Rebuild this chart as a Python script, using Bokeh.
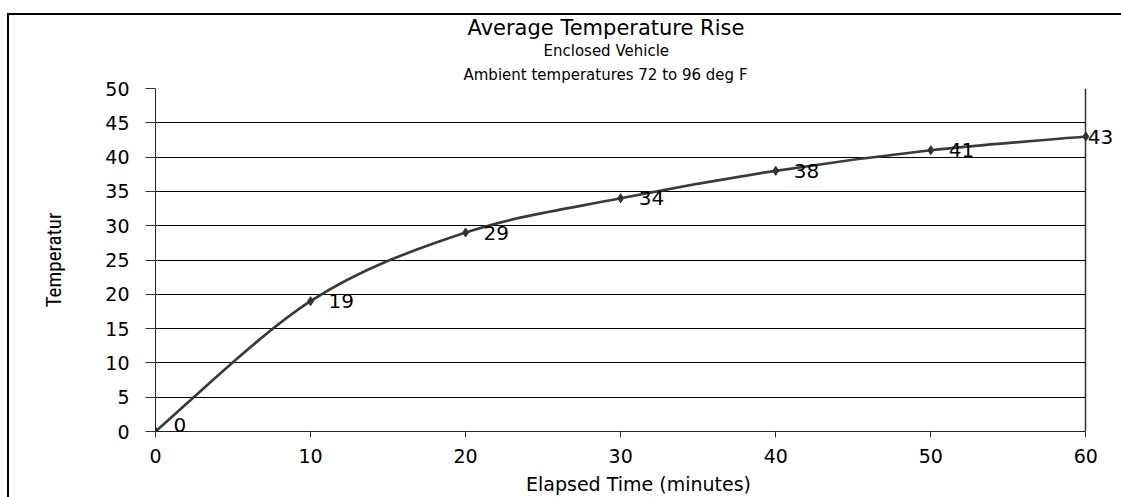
from bokeh.plotting import figure
from bokeh.models import ColumnDataSource, FixedTicker, LabelSet, Range1d, Title
from bokeh.core.properties import value
from bokeh.embed import file_html
from bokeh.resources import INLINE

# ---- data ----
minutes = [0, 10, 20, 30, 40, 50, 60]
temp_rise = [0, 19, 29, 34, 38, 41, 43]
point_labels = ["0", "19", "29", "34", "38", "41", "43"]
x_ticks = [0, 10, 20, 30, 40, 50, 60]
y_ticks = [0, 5, 10, 15, 20, 25, 30, 35, 40, 45, 50]
title_text = "Average Temperature Rise"
subtitle_1 = "Enclosed Vehicle"
subtitle_2 = "Ambient temperatures 72 to 96 deg F"
x_title = "Elapsed Time (minutes)"
y_title = "Temperatur"

# label offsets (style only)
label_dx = [18, 18, 18, 18, 18, 18, 2]
label_dy = [7, 0, 0, 0, 0, 0, 0]

FONT = "DejaVu Sans"
W, H = 1121, 497
LEFT, RIGHT, TOP, BOTTOM = 155, 0, 88, 66

p = figure(width=W, height=H, output_backend="svg", toolbar_location=None,
           x_range=Range1d(0, 62.3), y_range=Range1d(0, 50),
           min_border_left=LEFT, min_border_right=RIGHT,
           min_border_top=TOP, min_border_bottom=BOTTOM)
p.border_fill_color = None
p.background_fill_color = "white"
p.styles = {"background": "linear-gradient(#000,#000) 7px 13px / 100% 2px no-repeat, "
                          "linear-gradient(#000,#000) 7px 13px / 2px 100% no-repeat, #fff"}
p.outline_line_color = None

# axes
p.xaxis.ticker = FixedTicker(ticks=x_ticks)
p.yaxis.ticker = FixedTicker(ticks=y_ticks)
for ax in (p.xaxis[0], p.yaxis[0]):
    ax.major_label_text_font = FONT
    ax.major_label_text_font_size = "19px"
    ax.major_label_text_color = "black"
    ax.axis_label_text_font_style = "normal"
    ax.axis_label_text_color = "black"
    ax.minor_tick_line_color = None
    ax.major_tick_in = 0
    ax.axis_line_color = "#222222"
    ax.major_tick_line_color = "#333333"

p.xaxis.bounds = (x_ticks[0], x_ticks[-1])
p.xaxis.major_tick_out = 6
p.xaxis.major_label_standoff = 11
p.xaxis.axis_label = x_title
p.xaxis.axis_label_text_font = FONT
p.xaxis.axis_label_text_font_size = "19px"
p.xaxis.axis_label_standoff = 7

p.yaxis.major_tick_out = 10
p.yaxis.major_label_standoff = 16
p.yaxis.axis_label = y_title
p.yaxis.axis_label_text_font = "Liberation Sans Narrow, Roboto Condensed, Arial Narrow, sans-serif"
p.yaxis.axis_label_text_font_size = "21px"
p.yaxis.axis_label_standoff = 36

# horizontal gridlines limited to the plot area, vertical line only at the right edge
p.ygrid.grid_line_color = "black"
p.ygrid.grid_line_width = 1
p.ygrid.cross_bounds = (x_ticks[0], x_ticks[-1])
p.xgrid.ticker = FixedTicker(ticks=[x_ticks[-1]])
p.xgrid.grid_line_color = "#333333"
p.xgrid.grid_line_width = 1.5

# smooth (Excel-like) curve through the points using the bezier glyph
n = len(minutes)
bx0, by0, bx1, by1, cx0, cy0, cx1, cy1 = [], [], [], [], [], [], [], []
for i in range(n - 1):
    a = max(i - 1, 0)
    b = min(i + 2, n - 1)
    bx0.append(minutes[i]); by0.append(temp_rise[i])
    bx1.append(minutes[i + 1]); by1.append(temp_rise[i + 1])
    cx0.append(minutes[i] + (minutes[i + 1] - minutes[a]) / 6)
    cy0.append(temp_rise[i] + (temp_rise[i + 1] - temp_rise[a]) / 6)
    cx1.append(minutes[i + 1] - (minutes[b] - minutes[i]) / 6)
    cy1.append(temp_rise[i + 1] - (temp_rise[b] - temp_rise[i]) / 6)
p.bezier(x0=bx0, y0=by0, x1=bx1, y1=by1, cx0=cx0, cy0=cy0, cx1=cx1, cy1=cy1,
         line_color="#3a3a3a", line_width=2.7)

src = ColumnDataSource(dict(x=minutes, y=temp_rise, t=point_labels,
                            dx=label_dx, dy=label_dy))
p.scatter("x", "y", source=src, marker="diamond", size=9,
          fill_color="#333333", line_color="#333333")

labels = LabelSet(x="x", y="y", text="t", source=src, x_offset="dx", y_offset="dy",
                  text_font=value(FONT), text_font_size="20px", text_color="black",
                  text_baseline="middle", text_align="left")
p.add_layout(labels)

# titles: first added sits closest to the plot; left-aligned with pixel offsets
# so that they are centred over the original plot area (not the widened frame)
for txt, size, stand, off in ((subtitle_2, "15px", 9, 308),
                              (subtitle_1, "15px", 0, 388),
                              (title_text, "21px", 0, 312)):
    p.add_layout(Title(text=txt, align="left", offset=off, text_font=FONT,
                       text_font_size=size, text_font_style="normal",
                       text_color="black", standoff=stand), "above")

open("out.html", "w").write(file_html(p, INLINE))
